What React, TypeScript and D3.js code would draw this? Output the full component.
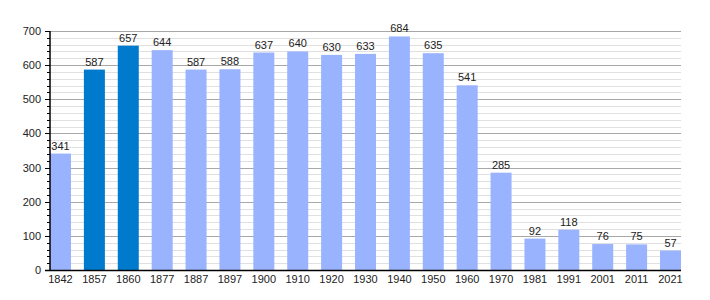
import React from "react";
import * as d3 from "d3";

const years = ["1842","1857","1860","1877","1887","1897","1900","1910","1920","1930","1940","1950","1960","1970","1981","1991","2001","2011","2021"];
const population = [341,587,657,644,587,588,637,640,630,633,684,635,541,285,92,118,76,75,57];
const highlighted = ["1857","1860"];
const yTicks = [0,100,200,300,400,500,600,700];

const W = 710, H = 300;
const left = 50, right = 681, top = 31, bottom = 270;
const barW = 21;

export default function App() {
  const x = d3.scaleLinear().domain([0, years.length - 1]).range([left, right - barW]);
  const y = d3.scaleLinear().domain([0, 700]).range([bottom, top]);
  const minor = d3.range(0, 701, 20).filter(v => v % 100 !== 0);
  const font = "'Liberation Sans', Arial, sans-serif";
  return (
    <svg width={W} height={H} style={{ position: "absolute", left: 0, top: 0 }}>
      <rect width={W} height={H} fill="#fff" />
      {minor.map(v => (
        <line key={"m"+v} x1={left} x2={right} y1={Math.round(y(v)) + 0.5} y2={Math.round(y(v)) + 0.5} stroke="#e0e0e0" strokeWidth={1} />
      ))}
      {yTicks.filter(v => v > 0).map(v => (
        <line key={"g"+v} x1={left} x2={right} y1={Math.round(y(v)) + 0.5} y2={Math.round(y(v)) + 0.5} stroke="#a8a8a8" strokeWidth={1} />
      ))}
      {years.map((yr, i) => (
        <rect key={yr} x={x(i)} y={y(population[i])} width={barW} height={bottom - y(population[i])}
          fill={highlighted.includes(yr) ? "#007acc" : "#99b3ff"} />
      ))}
      {years.map((yr, i) => (
        <text key={"v"+yr} x={x(i) + barW / 2} y={y(population[i]) - 4} textAnchor="middle" fontSize={11} fontFamily={font} fill="#222">{population[i]}</text>
      ))}
      {years.map((yr, i) => (
        <text key={"x"+yr} x={x(i) + barW / 2} y={283} textAnchor="middle" fontSize={11} fontFamily={font} fill="#222">{yr}</text>
      ))}
      {minor.map(v => (
        <line key={"mt"+v} x1={left - 3} x2={left} y1={Math.round(y(v)) + 0.5} y2={Math.round(y(v)) + 0.5} stroke="#000" strokeWidth={1} />
      ))}
      {yTicks.map(v => (
        <g key={"t"+v}>
          <line x1={left - 5} x2={left} y1={Math.round(y(v)) + 0.5} y2={Math.round(y(v)) + 0.5} stroke="#000" strokeWidth={1} />
          <text x={41} y={y(v) + 4} textAnchor="end" fontSize={11} fontFamily={font} fill="#222">{v}</text>
        </g>
      ))}
      <line x1={left} x2={left} y1={top} y2={bottom + 1} stroke="#000" strokeWidth={1.5} />
      <line x1={left - 5} x2={right} y1={bottom + 0.5} y2={bottom + 0.5} stroke="#000" strokeWidth={1.5} />
    </svg>
  );
}
